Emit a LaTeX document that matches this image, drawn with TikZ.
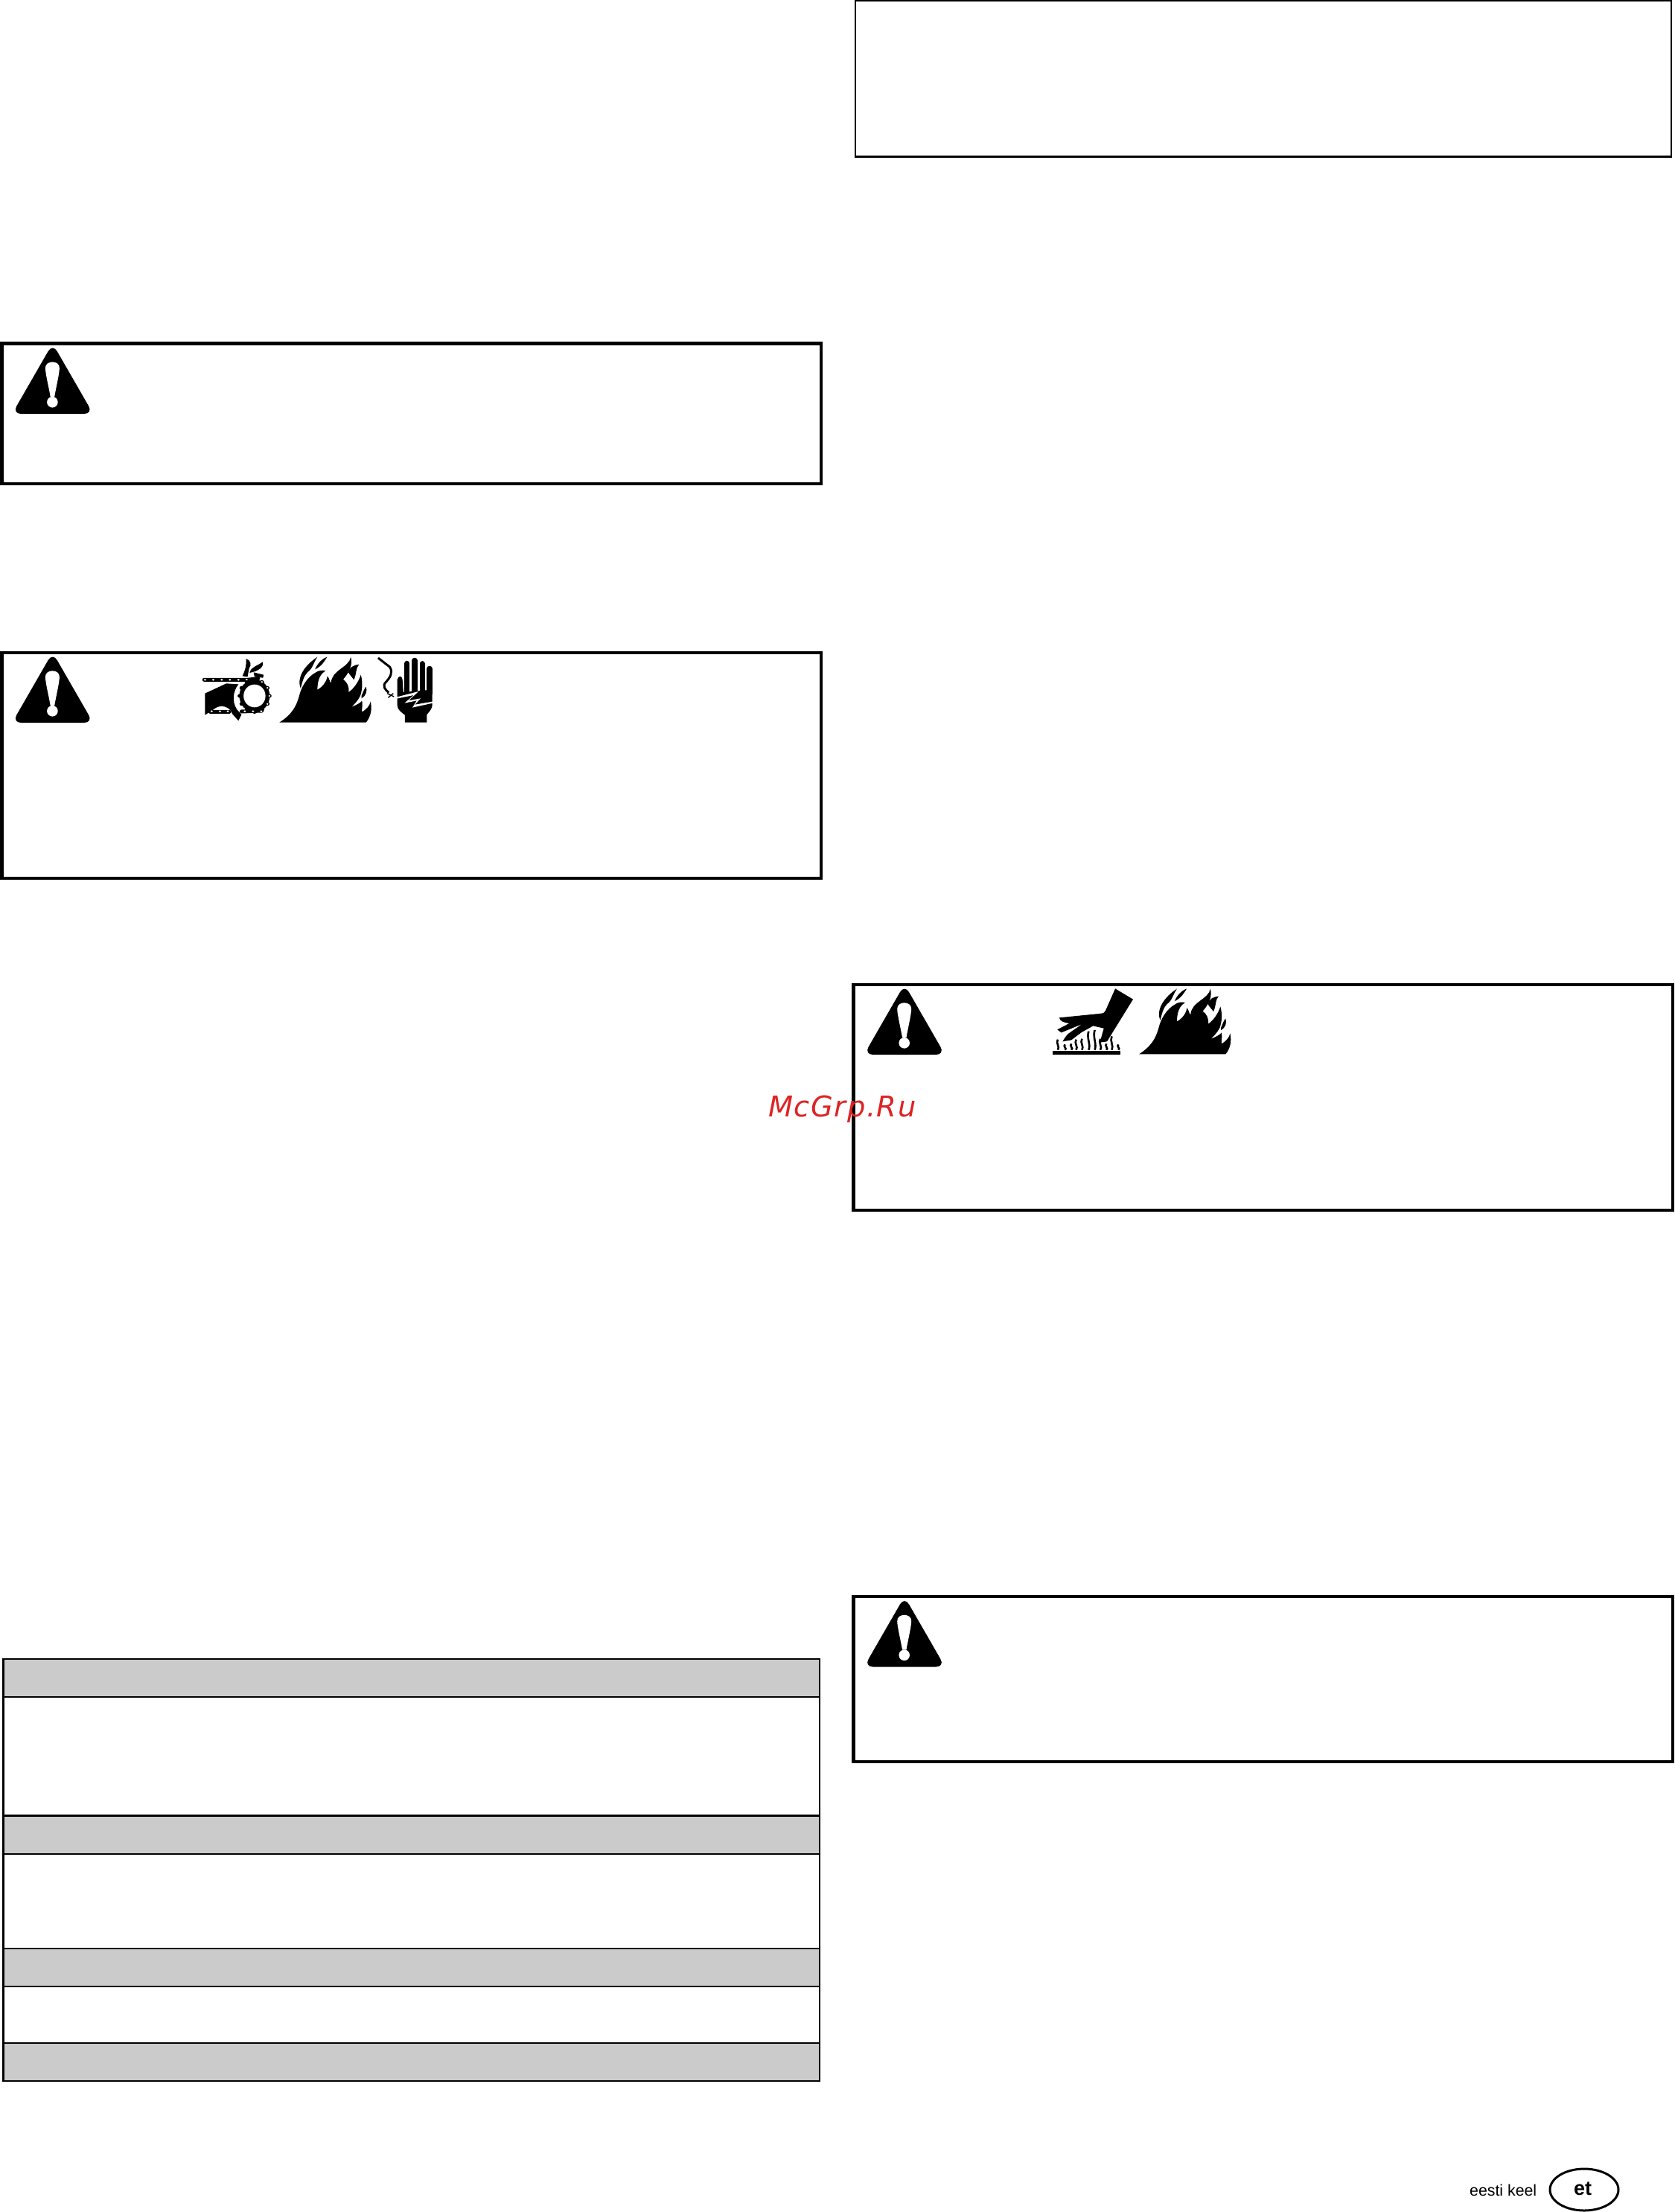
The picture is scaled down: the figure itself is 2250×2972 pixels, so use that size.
\documentclass[tikz,border=0pt]{standalone}
\usepackage{fontspec}
\setmainfont{Liberation Sans}
\newfontfamily\wmfont[LetterSpace=4]{DejaVu Sans Oblique}
\definecolor{rowgray}{HTML}{CBCBCB}
\definecolor{wmred}{HTML}{DD2424}
\tikzset{
  heavybox/.style={draw=black,line width=4.5pt,fill=none},
  thinbox/.style={draw=black,line width=2.5pt,fill=none},
  graycell/.style={draw=black,line width=2.2pt,fill=rowgray},
  whitecell/.style={draw=black,line width=2.2pt,fill=white},
}
\newcommand{\warntri}[2]{%
  \begin{scope}[shift={(#1,#2)}]
    \fill[rounded corners=12pt] (50,-6.5) -- (104.4,88) -- (-4.4,88) -- cycle;
    \fill[white] (40.2,26.7) .. controls (40,21) and (45,18.3) .. (49.7,18.3)
      .. controls (54.5,18.3) and (59.4,21) .. (59.2,26.7)
      .. controls (59,35) and (54,55) .. (52.5,65) -- (47,65)
      .. controls (45.5,55) and (40.4,35) .. (40.2,26.7) -- cycle;
    \fill[white] (49.7,72.3) circle[radius=7.3];
  \end{scope}}
\newcommand{\flameicon}[2]{%
  \begin{scope}[shift={(#1-375.4,#2-22.7-860)},shift={(0,860)},xscale=.408,yscale=.3333]
    \fill (920,332) .. controls (960,300) and (975,270) .. (985,225)
      .. controls (992,190) and (1010,150) .. (1040,130)
      .. controls (1050,122) and (1062,120) .. (1072,124)
      .. controls (1055,135) and (1045,160) .. (1045,200)
      .. controls (1060,190) and (1075,170) .. (1078,145)
      .. controls (1085,155) and (1085,170) .. (1090,172)
      .. controls (1092,120) and (1150,110) .. (1155,68)
      .. controls (1162,100) and (1150,130) .. (1130,158)
      .. controls (1142,170) and (1150,185) .. (1148,210)
      .. controls (1165,195) and (1180,170) .. (1188,140)
      .. controls (1195,170) and (1193,200) .. (1186,225)
      .. controls (1178,245) and (1165,260) .. (1157,270)
      .. controls (1172,262) and (1185,255) .. (1192,245)
      .. controls (1195,265) and (1190,280) .. (1192,290)
      .. controls (1205,280) and (1218,265) .. (1220,248)
      .. controls (1226,280) and (1220,310) .. (1205,332) -- cycle;
    \fill (990,195) .. controls (975,150) and (1005,100) .. (1045,68)
      .. controls (1032,90) and (1030,115) .. (1012,130)
      .. controls (1000,145) and (995,170) .. (990,195) -- cycle;
    \fill (1037,118) .. controls (1045,95) and (1060,75) .. (1077,68)
      .. controls (1068,85) and (1060,105) .. (1037,118) -- cycle;
    \fill (1147,130) .. controls (1150,110) and (1165,100) .. (1182,98)
      .. controls (1170,115) and (1175,135) .. (1165,160)
      .. controls (1160,150) and (1152,142) .. (1147,130) -- cycle;
    \fill (1190,225) .. controls (1195,210) and (1200,195) .. (1205,188)
      .. controls (1210,205) and (1205,225) .. (1190,235) -- cycle;
  \end{scope}}
\begin{document}
\begin{tikzpicture}[x=1pt,y=-1pt]
\useasboundingbox (0,0) rectangle (2250,2972);
\fill[white] (0,0) rectangle (2250,2972);

% left warning boxes
\draw[heavybox] (2.5,461.7) rectangle (1103,650);
\draw[heavybox] (2.5,877) rectangle (1103,1180);
% right column boxes
\draw[thinbox] (1149,1.2) rectangle (2245,210.7);
\draw[heavybox] (1146.5,1323) rectangle (2247,1626);
\draw[heavybox] (1146.5,2145) rectangle (2247,2367);

% table
\draw[graycell]  (4.5,2229)   rectangle (1101,2280.3);
\draw[whitecell] (4.5,2280.3) rectangle (1101,2439.4);
\draw[graycell]  (4.5,2439.4) rectangle (1101,2491);
\draw[whitecell] (4.5,2491)   rectangle (1101,2618);
\draw[graycell]  (4.5,2618)   rectangle (1101,2669);
\draw[whitecell] (4.5,2669)   rectangle (1101,2745);
\draw[graycell]  (4.5,2745)   rectangle (1101,2796.3);

% warning triangles
\warntri{20.7}{468}
\warntri{20.7}{883}
\warntri{1165}{1329}
\warntri{1165}{2151.5}

% flames
\flameicon{375.4}{882.7}
\flameicon{1530}{1328.5}

% chain and sprocket, hand
\begin{scope}[shift={(0,860)},xscale=.408,yscale=.3333]
  % hand
  \fill (675,215) -- (745,175) -- (785,178) .. controls (768,205) and (762,245) .. (780,280)
    -- (795,300) -- (785,325) -- (765,298) -- (760,285)
    .. controls (745,262) and (720,262) .. (705,278) -- (675,302) -- cycle;
  % upper chain
  \draw[line width=5pt,line cap=round] (672,160) -- (815,160) -- (850,155);
  \foreach \cx in {675,702,730,757,785,812,838}
    \fill[white] (\cx,160) circle[radius=4];
  % sprocket
  \fill (838,225) ellipse[x radius=50,y radius=66];
  \foreach \ang in {-90,-60,...,240}
    \fill ({838+48*cos(\ang)},{225+64*sin(\ang)}) ellipse[x radius=8,y radius=8];
  \fill[white] (838,225) ellipse[x radius=36,y radius=46];
  \foreach \ang in {-60,-30,0,30,60}
    \fill[white] ({838+49*cos(\ang)},{225+65*sin(\ang)}) circle[radius=3.5];
  % lower chain
  \draw[line width=5pt,line cap=round] (692,288) -- (755,288);
  \draw[line width=5pt,line cap=round] (795,288) -- (862,285);
  \foreach \cx in {697,724,750,806,833,860}
    \fill[white] (\cx,287) circle[radius=4];
  % rag flying over sprocket
  \fill (810,75) .. controls (825,80) and (830,100) .. (820,115) -- (815,148) -- (798,145)
    .. controls (808,120) and (812,100) .. (810,75) -- cycle;
  \fill (865,88) .. controls (870,110) and (850,125) .. (822,132)
    .. controls (825,110) and (845,105) .. (865,88) -- cycle;
  \fill (835,130) -- (868,140) -- (866,152) -- (838,148) -- cycle;

  % electric shock hand
  \draw[line width=3pt] (1245,72) -- (1283,108) .. controls (1295,130) and (1285,150) .. (1270,170)
    .. controls (1258,185) and (1268,200) .. (1280,212);
  \draw[line width=1.4pt] (1278,232) -- (1295,215) (1275,215) -- (1297,228);
  \fill (1308,160) .. controls (1310,145) and (1323,140) .. (1325,158) -- (1328,210)
    -- (1423,200) -- (1423,265) .. controls (1420,285) and (1410,290) .. (1405,302)
    -- (1405,332) -- (1333,332) -- (1333,302) .. controls (1320,290) and (1308,280) .. (1308,262) -- cycle;
  \foreach \fx/\fy in {1340/94,1365/82,1390/95,1414/115}
    \draw[line width=7.2pt,line cap=round] (\fx,\fy) -- (\fx,215);
  \fill[white] (1305,230) -- (1378,207) -- (1345,244) -- (1385,235) -- (1366,260)
    -- (1424,248) -- (1424,254) -- (1358,272) -- (1372,244) -- (1332,254) -- (1362,222) -- (1305,236) -- cycle;
\end{scope}

% hot surface icon
\begin{scope}[shift={(1140,1310)},xscale=.357,yscale=.3333]
  \fill (767,307) rectangle (1022,320);
  \foreach \wx/\wh in {787/42,814/22,838/25,856/42,878/45,903/75,926/80,947/45,970/25,990/55,1015/22}
    \draw[line width=2.6pt] (\wx,302) .. controls ({\wx+9},{302-\wh*.3}) and ({\wx-9},{302-\wh*.65}) .. (\wx,{302-\wh});
  \fill (792,172) -- (950,155) .. controls (960,154) and (964,150) .. (967,142) -- (1003,55)
    -- (1070,98) -- (972,268) -- (945,272) -- (960,215) -- (920,205) -- (875,232)
    -- (838,262) -- (805,268) .. controls (815,250) and (822,238) .. (835,230) -- (878,198)
    -- (800,232) -- (785,220) -- (830,195) .. controls (812,192) and (796,188) .. (792,172) -- cycle;
\end{scope}

% watermark
\node[anchor=base west,inner sep=0pt,text=wmred] (wm) at (1032,1500.7) {\fontsize{38.4pt}{38.4pt}\selectfont\wmfont McGrp.Ru};

% footer
\node[anchor=base west,inner sep=0pt] (lang) at (1974,2950) {\fontsize{21.3pt}{21.3pt}\selectfont eesti keel};
\coordinate (etc) at (2128,2942);
\draw[line width=3pt] (etc) ellipse[x radius=46,y radius=28];
\node[anchor=base,inner sep=0pt] (et) at (2126,2949) {\fontsize{27pt}{27pt}\selectfont\bfseries et};
\end{tikzpicture}
\end{document}
